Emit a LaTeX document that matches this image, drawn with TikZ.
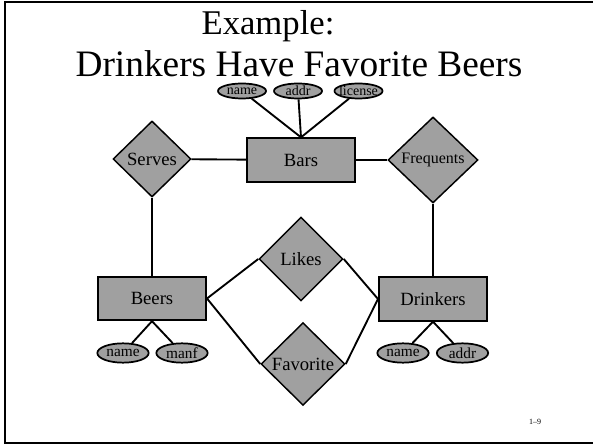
\documentclass[tikz,border=0pt]{standalone}
\usepackage{fontspec}
\setmainfont{Liberation Serif}
\usetikzlibrary{shapes.geometric}
\definecolor{erfill}{RGB}{160,160,160}
% zero-width label so the text never widens its ellipse
\newcommand{\ztext}[1]{\makebox[0pt]{#1}}

\begin{document}
\begin{tikzpicture}[x=0.75pt,y=-0.75pt,
  entity/.style={draw,fill=erfill,line width=1.5pt,minimum width=81pt,
    minimum height=32.5pt,inner sep=0pt,font=\fontsize{14}{16}\selectfont},
  rel/.style={draw,fill=erfill,diamond,line width=1.1pt,inner sep=0pt,
    font=\fontsize{14}{16}\selectfont},
  attr/.style={draw,fill=erfill,ellipse,line width=1.3pt,inner sep=0pt},
  smallattr/.style={attr,minimum width=36pt,minimum height=11.25pt,
    font=\fontsize{10.5}{12}\selectfont},
  bigattr/.style={attr,minimum width=38.5pt,minimum height=14.5pt,
    font=\fontsize{11.5}{13}\selectfont},
  link/.style={line width=1.4pt},
  heading/.style={anchor=base,inner sep=0pt}]
\useasboundingbox (0,0) rectangle (593,445);

% slide frame
\draw[line width=2pt] (593,2) -- (5,2) -- (5,443) -- (593,443);

% title
\node[heading,font=\fontsize{26}{30}\selectfont] (ttl1) at (268,35) {Example:};
\node[heading,font=\fontsize{28}{32}\selectfont] (ttl2) at (299,77) {Drinkers Have Favorite Beers};

% entity sets
\node[entity] (bars) at (301,160) {Bars};
\node[entity] (beers) at (152,298.5) {Beers};
\node[entity] (drinkers) at (433,299) {Drinkers};

% relationships
\node[rel,minimum width=58.5pt,minimum height=57pt] (serves) at (152,159) {Serves};
\node[rel,minimum width=67.5pt,minimum height=64.5pt,font=\fontsize{12}{14}\selectfont] (frequents) at (433,160) {Frequents};
\node[rel,minimum width=63pt,minimum height=63pt] (likes) at (301,259) {Likes};
\node[rel,minimum width=63pt,minimum height=62pt] (favorite) at (303,364) {Favorite};

% attributes
\node[smallattr] (barname) at (242,91) {\ztext{name}};
\node[smallattr] (baraddr) at (298,91) {\ztext{addr}};
\node[smallattr] (barlicense) at (358.5,91) {\ztext{license}};
\node[bigattr] (beername) at (123,353) {\ztext{name}};
\node[bigattr] (beermanf) at (182,353) {\ztext{manf}};
\node[bigattr] (drinkername) at (403,353) {\ztext{name}};
\node[bigattr] (drinkeraddr) at (462.5,353) {\ztext{addr}};

% connectors
\draw[link] (serves) -- (bars);
\draw[link] (bars) -- (frequents);
\draw[link] (serves.south) -- (beers.north);
\draw[link] (frequents.south) -- (drinkers.north);
\draw[link] (beers.east) -- (likes.west);
\draw[link] (beers.east) -- (favorite.west);
\draw[link] (drinkers.west) -- (likes.east);
\draw[link] (drinkers.west) -- (favorite.east);
\draw[link] (barname) -- (bars.north);
\draw[link] (baraddr) -- (bars.north);
\draw[link] (barlicense) -- (bars.north);
\draw[link] (beername) -- (beers.south);
\draw[link] (beermanf) -- (beers.south);
\draw[link] (drinkername) -- (drinkers.south);
\draw[link] (drinkeraddr) -- (drinkers.south);

% slide number
\node[heading,font=\fontsize{6}{7}\selectfont] (pagenum) at (535,425) {1–9};
\end{tikzpicture}
\end{document}
